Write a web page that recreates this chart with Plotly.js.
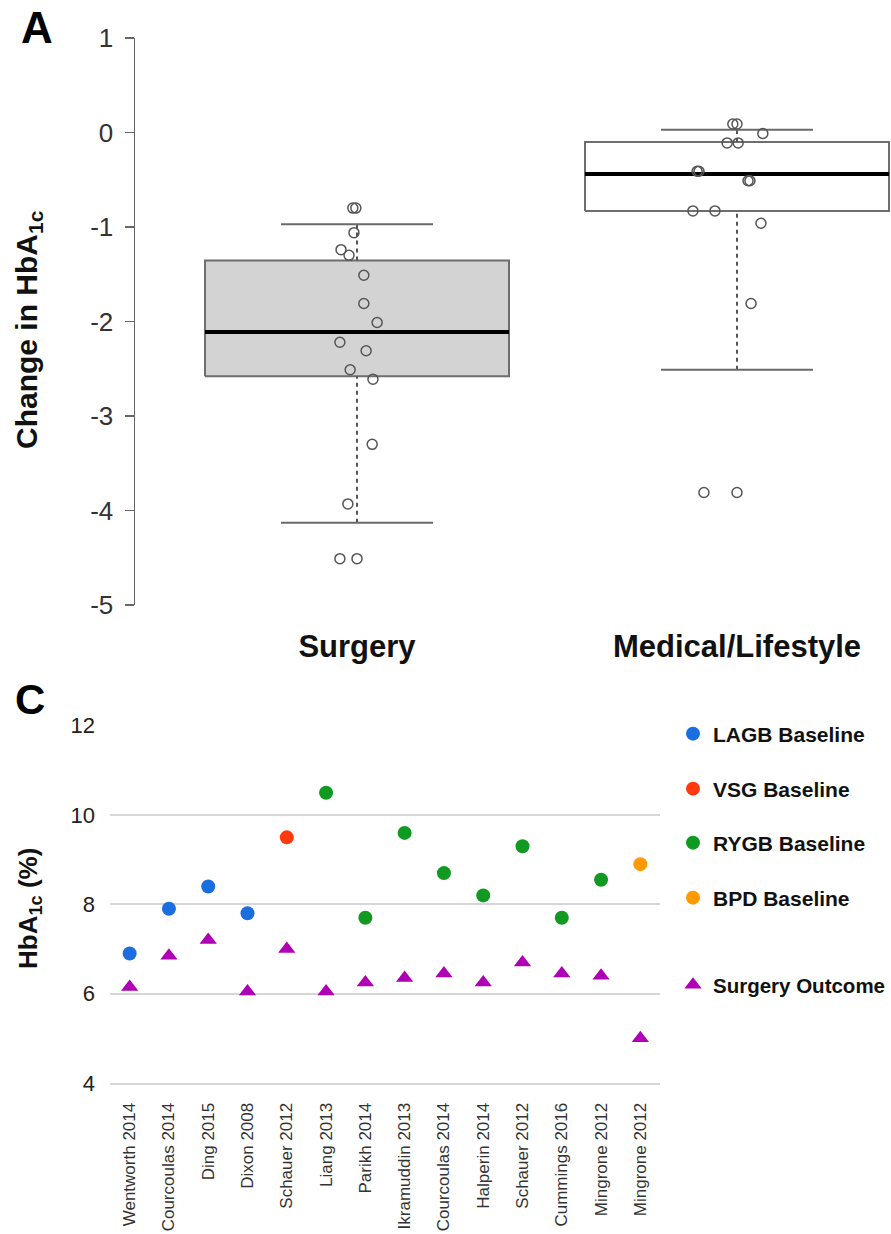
<!DOCTYPE html>
<html>
<head>
<meta charset="utf-8">
<script src="https://cdn.plot.ly/plotly-3.0.1.min.js"></script>
<style>
  html, body { margin: 0; padding: 0; background: #fff; }
  #chart { width: 891px; height: 1234px; }
</style>
</head>
<body>
<div id="chart"></div>
<script>
// ---------- Panel A: change in HbA1c by treatment group ----------
const groups = ['Surgery', 'Medical/Lifestyle'];

const surgeryChange = [-0.80, -0.80, -1.06, -1.24, -1.30, -1.51, -1.81, -2.01, -2.22, -2.31, -2.51, -2.61, -3.30, -3.93, -4.51, -4.51];
const surgeryJitter = [-0.011, -0.003, -0.008, -0.042, -0.021, 0.018, 0.018, 0.053, -0.045, 0.024, -0.018, 0.042, 0.040, -0.024, -0.045, 0.000];

const medicalChange = [0.09, 0.09, -0.01, -0.11, -0.11, -0.41, -0.41, -0.51, -0.51, -0.83, -0.83, -0.96, -1.81, -3.81, -3.81];
const medicalJitter = [-0.011, 0.000, 0.068, -0.026, 0.003, -0.105, -0.100, 0.029, 0.034, -0.116, -0.058, 0.063, 0.037, -0.087, 0.000];

// box statistics: lower whisker, lower hinge, median, upper hinge, upper whisker
const surgeryBox = [-4.13, -2.58, -2.11, -1.355, -0.97];
const medicalBox = [-2.51, -0.83, -0.44, -0.10, 0.03];

const changeTicks = [-5, -4, -3, -2, -1, 0, 1];

// ---------- Panel C: baseline and post-surgery HbA1c per study ----------
const studies = ['Wentworth 2014', 'Courcoulas 2014', 'Ding 2015', 'Dixon 2008', 'Schauer 2012', 'Liang 2013',
  'Parikh 2014', 'Ikramuddin 2013', 'Courcoulas 2014', 'Halperin 2014', 'Schauer 2012', 'Cummings 2016',
  'Mingrone 2012', 'Mingrone 2012'];
const procedure = ['LAGB', 'LAGB', 'LAGB', 'LAGB', 'VSG', 'RYGB', 'RYGB', 'RYGB', 'RYGB', 'RYGB', 'RYGB', 'RYGB', 'RYGB', 'BPD'];
const baselineHbA1c = [6.9, 7.9, 8.4, 7.8, 9.5, 10.5, 7.7, 9.6, 8.7, 8.2, 9.3, 7.7, 8.55, 8.9];
const outcomeHbA1c = [6.15, 6.85, 7.2, 6.05, 7.0, 6.05, 6.25, 6.35, 6.45, 6.25, 6.7, 6.45, 6.4, 5.0];
const procedures = ['LAGB', 'VSG', 'RYGB', 'BPD'];
const hbTicks = [4, 6, 8, 10, 12];

// ---------- styling ----------
const W = 891, H = 1234;
const FONT = 'Liberation Sans, Arial, Helvetica, sans-serif';
const NARROW = 'Liberation Sans Narrow, Arial Narrow, Liberation Sans, Arial, sans-serif';
const procColor = { LAGB: '#1a6ee0', VSG: '#ff3a10', RYGB: '#119a22', BPD: '#ff9a00' };
const outcomeColor = '#b000b5';
const legendRows = { LAGB: 734, VSG: 789, RYGB: 843, BPD: 898, Outcome: 985 };

const px = v => v / W;
const py = v => 1 - v / H;

const BOX_HALF = 0.4, CAP_HALF = 0.2;
const traces = [];

function addBox(center, stats, fill) {
  const [lo, q1, med, q3, hi] = stats;
  traces.push({
    type: 'scatter', mode: 'lines', xaxis: 'x', yaxis: 'y', showlegend: false, hoverinfo: 'skip',
    x: [center - BOX_HALF, center + BOX_HALF, center + BOX_HALF, center - BOX_HALF, center - BOX_HALF],
    y: [q1, q1, q3, q3, q1],
    fill: 'toself', fillcolor: fill, line: { color: '#6e6e6e', width: 2 }
  });
  // dashed whiskers
  traces.push({
    type: 'scatter', mode: 'lines', xaxis: 'x', yaxis: 'y', showlegend: false, hoverinfo: 'skip',
    x: [center, center, null, center, center],
    y: [lo, q1, null, q3, hi],
    line: { color: '#555', width: 2, dash: '4px,4px' }
  });
  // whisker caps
  traces.push({
    type: 'scatter', mode: 'lines', xaxis: 'x', yaxis: 'y', showlegend: false, hoverinfo: 'skip',
    x: [center - CAP_HALF, center + CAP_HALF, null, center - CAP_HALF, center + CAP_HALF],
    y: [lo, lo, null, hi, hi],
    line: { color: '#6a6a6a', width: 2 }
  });
  // median
  traces.push({
    type: 'scatter', mode: 'lines', xaxis: 'x', yaxis: 'y', showlegend: false, hoverinfo: 'skip',
    x: [center - BOX_HALF, center + BOX_HALF], y: [med, med],
    line: { color: '#000', width: 4 }
  });
}

function addPoints(center, values, jitter) {
  traces.push({
    type: 'scatter', mode: 'markers', xaxis: 'x', yaxis: 'y', showlegend: false, hoverinfo: 'skip',
    x: values.map((v, i) => center + jitter[i]), y: values,
    marker: { symbol: 'circle-open', size: 10, color: '#555', line: { color: '#555', width: 1.5 } }
  });
}

addBox(1, surgeryBox, '#d3d3d3');
addBox(2, medicalBox, '#ffffff');
addPoints(1, surgeryChange, surgeryJitter);
addPoints(2, medicalChange, medicalJitter);

// Panel C traces, one per procedure baseline + outcome
const studyIdx = studies.map((_, i) => i);
procedures.forEach((p, k) => {
  const idx = studyIdx.filter(i => procedure[i] === p);
  traces.push({
    type: 'scatter', mode: 'markers', xaxis: 'x2', yaxis: 'y2',
    name: p + ' Baseline', legend: 'legend' + (k === 0 ? '' : (k + 1)),
    x: idx, y: idx.map(i => baselineHbA1c[i]),
    marker: { symbol: 'circle', size: 14, color: procColor[p] }, hoverinfo: 'skip'
  });
});
traces.push({
  type: 'scatter', mode: 'markers', xaxis: 'x2', yaxis: 'y2',
  name: 'Surgery Outcome', legend: 'legend5',
  x: studyIdx, y: outcomeHbA1c,
  marker: { symbol: 'triangle-up', size: 15, color: outcomeColor }, hoverinfo: 'skip'
});

// the last legend is anchored to the right edge so it stays inside the page
function legendAt(rowY, rightAligned) {
  return {
    x: rightAligned ? 1 : px(673), xanchor: rightAligned ? 'right' : 'left',
    y: py(rowY), yanchor: 'middle',
    bgcolor: 'rgba(0,0,0,0)', borderwidth: 0,
    font: { family: FONT, size: rightAligned ? 20.5 : 21, color: '#111', weight: 'bold' },
    itemclick: false, itemdoubleclick: false
  };
}

const layout = {
  width: W, height: H,
  margin: { l: 0, r: 0, t: 0, b: 0 },
  paper_bgcolor: '#fff', plot_bgcolor: 'rgba(0,0,0,0)',
  showlegend: true,
  font: { family: FONT, color: '#222' },
  xaxis: {
    domain: [px(135), 1], range: [1 - 222 / 380, 2 + 154 / 380],
    anchor: 'y', showgrid: false, zeroline: false, showline: false, ticks: '',
    tickvals: [1, 2], ticktext: groups, ticklabelstandoff: 20,
    tickfont: { family: FONT, size: 31, color: '#111', weight: 'bold' }
  },
  yaxis: {
    domain: [py(605), py(38)], range: [-5, 1], anchor: 'x',
    showgrid: false, zeroline: false, showline: true, linecolor: '#666', linewidth: 1.5,
    ticks: 'outside', ticklen: 9, tickwidth: 1.5, tickcolor: '#666',
    tickvals: changeTicks, ticktext: changeTicks.map(String), ticklabelstandoff: 6,
    tickfont: { family: NARROW, size: 26, color: '#333' }
  },
  xaxis2: {
    domain: [px(110), px(660)], range: [-0.5, 13.5], anchor: 'y2',
    showgrid: false, zeroline: false, showline: true, linecolor: '#d6d6d6', linewidth: 2,
    ticks: '', tickvals: studyIdx, ticktext: studies, tickangle: -90, ticklabelstandoff: 11,
    tickfont: { family: FONT, size: 17, color: '#333' }
  },
  yaxis2: {
    domain: [py(1083), py(725.7)], range: [4, 12], anchor: 'x2',
    tickvals: hbTicks, showgrid: true, gridcolor: '#d6d6d6', gridwidth: 2,
    zeroline: false, showline: false, ticks: '', ticklabelstandoff: 14,
    tickfont: { family: FONT, size: 22, color: '#222' }
  },
  legend: legendAt(legendRows.LAGB),
  legend2: legendAt(legendRows.VSG),
  legend3: legendAt(legendRows.RYGB),
  legend4: legendAt(legendRows.BPD),
  legend5: legendAt(legendRows.Outcome, true),
  annotations: [
    { text: 'A', x: px(37), y: py(27), xref: 'paper', yref: 'paper', showarrow: false,
      xanchor: 'center', yanchor: 'middle', font: { family: FONT, size: 44, color: '#000', weight: 'bold' } },
    { text: 'C', x: px(30), y: py(699), xref: 'paper', yref: 'paper', showarrow: false,
      xanchor: 'center', yanchor: 'middle', font: { family: FONT, size: 42, color: '#000', weight: 'bold' } },
    { text: 'Change in HbA<sub>1c</sub>', x: px(29), y: py(330), xref: 'paper', yref: 'paper', showarrow: false,
      textangle: -90, xanchor: 'center', yanchor: 'middle', font: { family: FONT, size: 30, color: '#111', weight: 'bold' } },
    { text: 'HbA<sub>1c</sub> (%)', x: px(29), y: py(909), xref: 'paper', yref: 'paper', showarrow: false,
      textangle: -90, xanchor: 'center', yanchor: 'middle', font: { family: FONT, size: 26, color: '#111', weight: 'bold' } }
  ]
};

Plotly.newPlot('chart', traces, layout, { staticPlot: true, displayModeBar: false });
</script>
</body>
</html>
